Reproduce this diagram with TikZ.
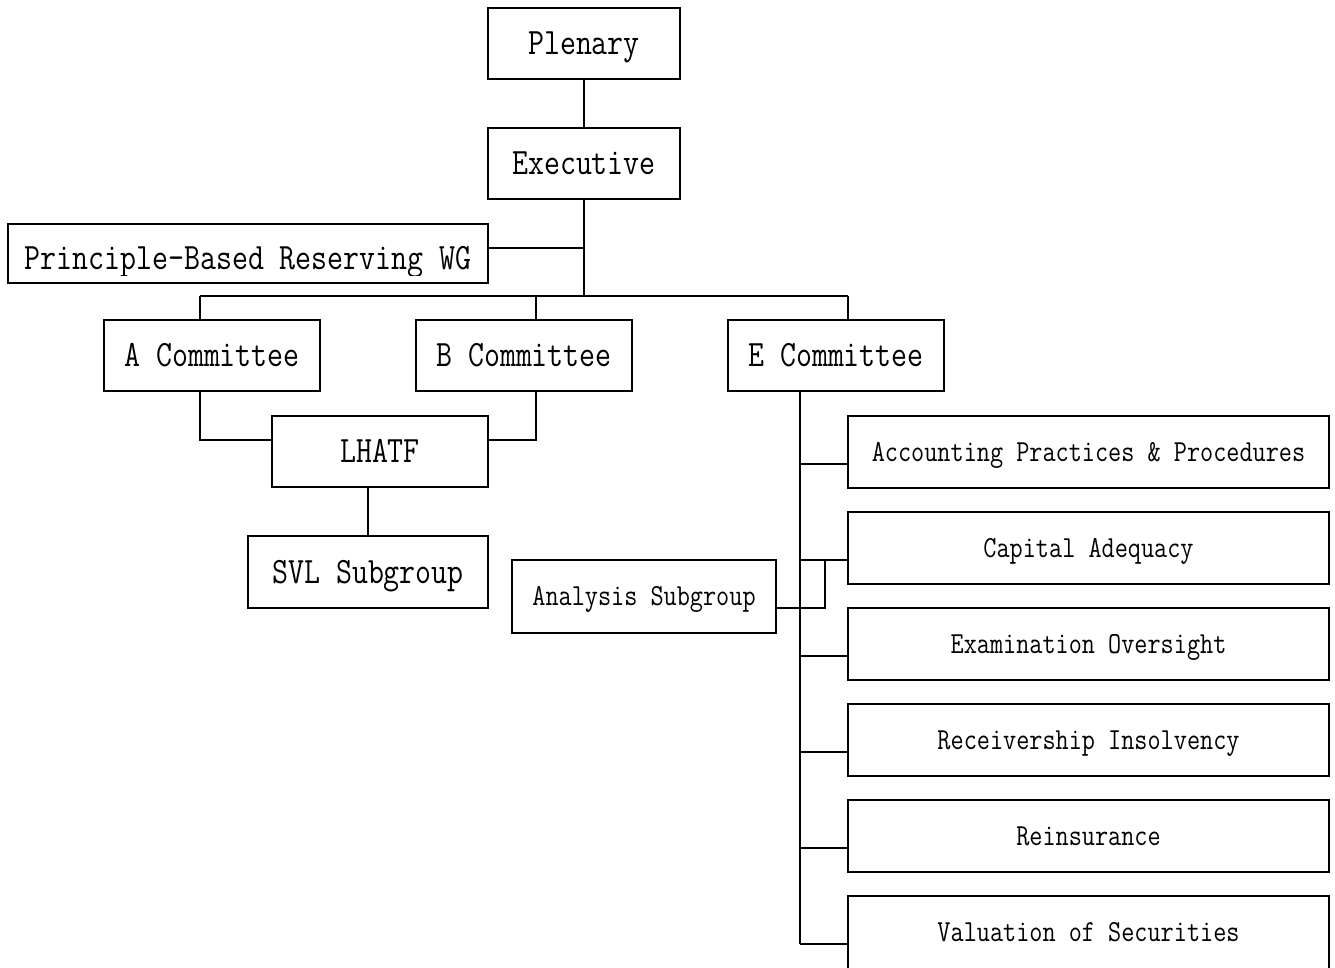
\documentclass[tikz,border=0pt]{standalone}
\usepackage{graphicx}
\newcommand{\stretchtxt}[1]{\scalebox{1}[1.2]{#1}}
\begin{document}
\begin{tikzpicture}[x=1pt,y=-1pt,line width=2pt,
  orgbox/.style={draw, line width=2pt, inner sep=0pt},
  bigtxt/.style={font=\fontsize{31}{36}\selectfont\ttfamily, text height=22.7pt, text depth=0pt},
  smalltxt/.style={font=\fontsize{25.5}{30}\selectfont\ttfamily, text height=18.7pt, text depth=0pt},
  bigbox/.style={orgbox, bigtxt, minimum height=71pt},
  childbox/.style={orgbox, smalltxt, minimum width=481pt, minimum height=72pt},
]
\useasboundingbox (0,0) rectangle (1335,967);
\clip (0,0) rectangle (1335,967);

% top of the hierarchy
\node[bigbox, minimum width=192pt] (plenary) at (584,43.5) {\stretchtxt{Plenary}};
\node[bigbox, minimum width=192pt] (executive) at (584,163.5) {\stretchtxt{Executive}};

% working group box, its text cut off by the text frame
\node[orgbox, minimum width=480pt, minimum height=59pt] (pbr) at (248,253.5) {};
\begin{scope}
  \clip (10,226) rectangle (486,275);
  \node[bigtxt, inner sep=0pt] (pbrtext) at (248,258.5) {\stretchtxt{Principle-Based Reserving WG}};
\end{scope}

% committees
\node[bigbox, minimum width=216pt] (acom) at (212,355.5) {\stretchtxt{A Committee}};
\node[bigbox, minimum width=216pt] (bcom) at (524,355.5) {\stretchtxt{B Committee}};
\node[bigbox, minimum width=216pt] (ecom) at (836,355.5) {\stretchtxt{E Committee}};

\node[bigbox, minimum width=216pt] (lhatf) at (380,451.5) {\stretchtxt{LHATF}};
\node[bigbox, minimum width=240pt, minimum height=72pt] (svl) at (368,572) {\stretchtxt{SVL Subgroup}};

% E committee groups
\node[childbox] (acct) at (1088.5,452) {\stretchtxt{Accounting Practices \& Procedures}};
\node[childbox] (capital) at (1088.5,548) {\stretchtxt{Capital Adequacy}};
\node[childbox] (exam) at (1088.5,644) {\stretchtxt{Examination Oversight}};
\node[childbox] (receiver) at (1088.5,740) {\stretchtxt{Receivership Insolvency}};
\node[childbox] (reins) at (1088.5,836) {\stretchtxt{Reinsurance}};
% last box runs past the lower edge
\node[childbox, minimum height=80pt, text height=18.7pt] (valuation) at (1088.5,936) {};
\node[smalltxt, inner sep=0pt] (valtext) at (1088.5,932) {\stretchtxt{Valuation of Securities}};

\node[orgbox, smalltxt, minimum width=264pt, minimum height=73pt] (analysis) at (644,596.5) {\stretchtxt{Analysis Subgroup}};

% junction points
\coordinate (hub) at (584,296);
\coordinate (pbrj) at (584,248);
\coordinate (busA) at (200,296);
\coordinate (busB) at (536,296);
\coordinate (busE) at (848,296);
\coordinate (aj) at (200,440);
\coordinate (bj) at (536,440);
\coordinate (trunk) at (800,944);

% connectors
\draw (plenary) -- (executive);
\draw (executive.south) -- (hub);
\draw (pbr.east |- pbrj) -- (pbrj);
\draw (busA) -- (busE);
\draw (busA) -- (busA |- acom.north);
\draw (busB) -- (busB |- bcom.north);
\draw (busE) -- (busE |- ecom.north);
\draw (busA |- acom.south) -- (aj) -- (aj -| lhatf.west);
\draw (busB |- bcom.south) -- (bj) -- (bj -| lhatf.east);
\draw (svl.north) -- (svl.north |- lhatf.south);

\draw (trunk |- ecom.south) -- (trunk);
\foreach \n in {acct,capital,exam,receiver,reins}
  \draw ([yshift=-12pt]\n.west -| trunk) -- ([yshift=-12pt]\n.west);
\draw (trunk) -- (trunk -| valuation.west);
\draw ([yshift=-11.5pt]analysis.east) -- ++(48,0) -- ++(0,-48);
\end{tikzpicture}
\end{document}
